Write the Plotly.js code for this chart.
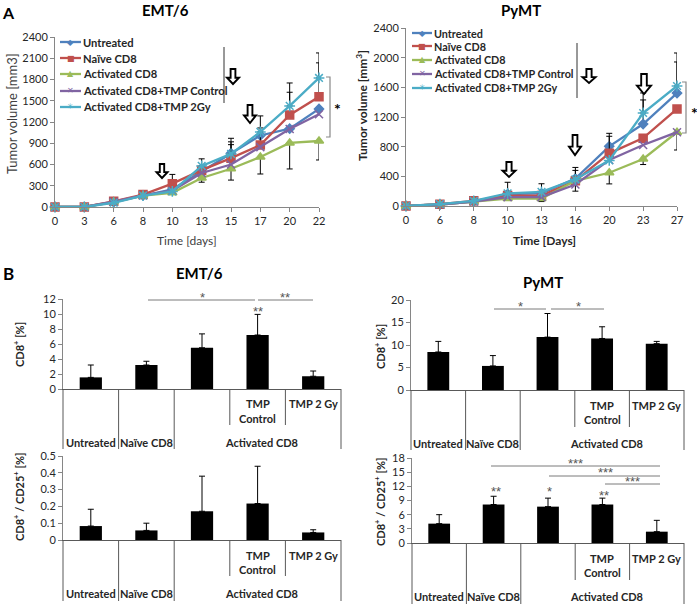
<!DOCTYPE html>
<html><head><meta charset="utf-8">
<script src="https://cdn.plot.ly/plotly-3.0.1.min.js"></script>
<style>body{margin:0;padding:0;background:#fff}#chart{width:697px;height:604px}</style>
</head><body><div id="chart"></div>
<script>
// ---------------- DATA ----------------
const seriesNames = ['Untreated','Naïve CD8','Activated CD8','Activated CD8+TMP Control','Activated CD8+TMP 2Gy'];

// Panel A – EMT/6 tumour volume [mm3]
const emtDays        = ['0','3','6','8','10','13','15','17','20','22'];
const emtUntreated   = [0,0,70,165,250,500,760,1010,1105,1385];
const emtNaive       = [0,0,80,175,330,520,690,875,1300,1555];
const emtActivated   = [0,0,70,160,200,410,540,706,905,932];
const emtTmpControl  = [0,0,75,165,230,480,600,845,1100,1310];
const emtTmp2Gy      = [0,0,60,160,220,580,750,1060,1427,1822];
const emtUntreatedErrUp = [null,null,null,null,null,null,120,null,null,null];
const emtNaiveErrUp     = [null,null,null,40,130,null,230,241,320,480];
const emtActivatedErrDn = [null,null,null,null,null,60,160,240,368,268];
const emtTmp2GyErrUp    = [null,null,null,null,null,100,220,226,324,353];

// Panel A – PyMT tumour volume [mm3]
const pymtDays       = ['0','6','8','10','13','16','20','23','27'];
const pymtUntreated  = [0,20,60,160,170,370,805,1105,1522];
const pymtNaive      = [0,25,70,140,140,340,710,915,1308];
const pymtActivated  = [0,20,60,100,100,340,448,634,995];
const pymtTmpControl = [0,20,60,120,120,290,620,822,995];
const pymtTmp2Gy     = [0,25,70,170,190,360,615,1254,1618];
const pymtUntreatedErrUp = [null,null,null,null,null,110,175,325,420];
const pymtNaiveErrUp     = [null,null,null,null,null,null,230,null,null];
const pymtActivatedErrDn = [null,null,null,null,40,140,150,75,240];
const pymtTmp2GyErrUp    = [null,null,null,150,110,160,null,270,445];

// Panel B – bar charts
const groups        = ['Untreated','Naïve CD8','Activated CD8','TMP Control','TMP 2 Gy'];
const emtCD8        = [1.55,3.2,5.5,7.2,1.7];
const emtCD8Err     = [1.65,0.5,1.85,2.75,0.7];
const emtCD25       = [0.083,0.057,0.171,0.217,0.045];
const emtCD25Err    = [0.1,0.043,0.209,0.222,0.016];
const pymtCD8       = [8.45,5.35,11.75,11.45,10.3];
const pymtCD8Err    = [2.35,2.3,5.25,2.6,0.5];
const pymtCD25      = [4.1,8.15,7.7,8.15,2.4];
const pymtCD25Err   = [1.9,1.75,1.8,1.35,2.4];
const outerLabels   = ['Untreated','Naïve CD8','Activated CD8'];
const innerLabels   = ['TMP','Control','TMP 2 Gy'];

// ---------------- STYLE / LAYOUT ----------------
const W = 697, H = 604;
const F = 'Lato, "Open Sans", "DejaVu Sans", sans-serif';
const DARK = '#262626', AXIS = '#868686', SIG = '#7a7a7a';
const colors  = ['#4F81BD','#C0504D','#9BBB59','#8064A2','#4BACC6'];
const symbols = ['diamond','square','triangle-up','x-thin-open','asterisk-open'];
const msizes  = [7,8,8,8,9];
const glyphs  = ['◆','■','▲','✕','✳'];

const G = {
  a1:{l:55,r:319,t:37,b:207},
  a2:{l:406,r:677,t:28,b:206},
  b1:{l:63,r:341,t:299,b:389},
  b2:{l:63,r:341,t:456,b:540},
  b3:{l:411,r:684,t:300,b:390},
  b4:{l:412,r:684,t:458,b:543}
};
const px = x => x / W, py = y => 1 - y / H;
const dom = g => ({x:[px(g.l), px(g.r)], y:[py(g.b), py(g.t)]});

function errObj(plus, minus){
  if(!plus && !minus) return {visible:false};
  const n = (plus || minus).length, p = [], m = [];
  for(let i = 0; i < n; i++){
    const a = plus ? plus[i] : null, b = minus ? minus[i] : null;
    if(a == null && b == null){ p.push(NaN); m.push(NaN); }
    else { p.push(a == null ? 0 : a); m.push(b == null ? 0 : b); }
  }
  return {type:'data', symmetric:false, array:p, arrayminus:m, color:'#000', thickness:1, width:3, visible:true};
}

const traces = [];
function addLines(xa, ya, days, series, errs){
  series.forEach((ys, i) => {
    traces.push({
      type:'scatter', mode:'lines+markers', x:days, y:ys, xaxis:xa, yaxis:ya,
      name:seriesNames[i], cliponaxis:false,
      line:{color:colors[i], width:2.3},
      marker:{symbol:symbols[i], size:msizes[i], color:colors[i], line:{color:colors[i], width:1.5}},
      error_y: errObj(errs[i][0], errs[i][1])
    });
  });
}
addLines('x','y', emtDays, [emtUntreated, emtNaive, emtActivated, emtTmpControl, emtTmp2Gy],
  [[emtUntreatedErrUp,null],[emtNaiveErrUp,null],[null,emtActivatedErrDn],[null,null],[emtTmp2GyErrUp,null]]);
addLines('x2','y2', pymtDays, [pymtUntreated, pymtNaive, pymtActivated, pymtTmpControl, pymtTmp2Gy],
  [[pymtUntreatedErrUp,null],[pymtNaiveErrUp,null],[null,pymtActivatedErrDn],[null,null],[pymtTmp2GyErrUp,null]]);

function addBars(xa, ya, vals, errs){
  traces.push({
    type:'bar', x:groups, y:vals, xaxis:xa, yaxis:ya, width:0.4,
    marker:{color:'#000', line:{width:0}},
    error_y:{type:'data', symmetric:false, array:errs, arrayminus:errs.map(()=>0), color:'#000', thickness:1, width:3}
  });
}
addBars('x3','y3', emtCD8, emtCD8Err);
addBars('x4','y4', emtCD25, emtCD25Err);
addBars('x5','y5', pymtCD8, pymtCD8Err);
addBars('x6','y6', pymtCD25, pymtCD25Err);

const tickfont = {family:F, size:11, color:DARK};
function lineX(g, anchor, cats){
  return {domain:dom(g).x, anchor, type:'category', categoryorder:'array', categoryarray:cats,
    range:[0, cats.length-1], tickmode:'linear', tick0:0, dtick:1,
    showline:true, linecolor:AXIS, linewidth:1, ticks:'outside', ticklen:4, tickcolor:AXIS,
    showgrid:false, zeroline:false, tickfont, fixedrange:true};
}
function valY(g, anchor, max, dtick, fmt){
  return {domain:dom(g).y, anchor, range:[0,max], tickmode:'linear', tick0:0, dtick,
    showline:true, linecolor:AXIS, linewidth:1, ticks:'outside', ticklen:4, tickcolor:AXIS,
    showgrid:false, zeroline:false, tickfont, tickformat:fmt || '', fixedrange:true};
}
function barX(g, anchor){
  return {domain:dom(g).x, anchor, type:'category', categoryorder:'array', categoryarray:groups,
    range:[-0.5, groups.length-0.5], showline:true, linecolor:'#595959', linewidth:1,
    ticks:'', showticklabels:false, showgrid:false, zeroline:false, fixedrange:true};
}

const shapes = [], annotations = [];
function ann(text, x, y, o){
  o = o || {};
  const font = Object.assign({family:F, size:11, color:DARK}, o.font || {});
  const a = Object.assign({text, x:px(x), y:py(y), xref:'paper', yref:'paper', showarrow:false,
    xanchor:'center', yanchor:'middle'}, o);
  a.font = font;
  return a;
}
function seg(x0,y0,x1,y1,color,width){
  return {type:'line', xref:'paper', yref:'paper', x0:px(x0), y0:py(y0), x1:px(x1), y1:py(y1),
    line:{color:color, width:width}};
}
function arrow(cx, top, bottom, w){
  const hw = w/2, sw = w*0.2, hh = (bottom-top)*0.42;
  const pts = [[cx-sw,top],[cx+sw,top],[cx+sw,bottom-hh],[cx+hw,bottom-hh],[cx,bottom],[cx-hw,bottom-hh],[cx-sw,bottom-hh]];
  return {type:'path', xref:'paper', yref:'paper', fillcolor:'#fff', line:{color:'#000', width:1.9},
    path:'M' + pts.map(p => px(p[0]) + ',' + py(p[1])).join('L') + 'Z'};
}

// panel letters and titles
annotations.push(ann('<b>A</b>', 8, 1, {yanchor:'top', font:{size:16, color:'#000'}}));
annotations.push(ann('<b>B</b>', 8, 273, {font:{size:17, color:'#000'}}));
annotations.push(ann('<b>EMT/6</b>', 165, 10, {font:{size:15, color:'#000'}}));
annotations.push(ann('<b>PyMT</b>', 521, 10, {font:{size:15, color:'#000'}}));
annotations.push(ann('<b>EMT/6</b>', 199, 273, {font:{size:15, color:'#000'}}));
annotations.push(ann('<b>PyMT</b>', 543, 282, {font:{size:15, color:'#000'}}));

// panel A axis titles
annotations.push(ann('Time [days]', 187, 240, {font:{size:12, color:'#404040'}}));
annotations.push(ann('Tumor volume [mm3]', 12, 114, {textangle:-90, font:{size:13, color:'#404040'}}));
annotations.push(ann('<b>Time [Days]</b>', 544, 240, {font:{size:12}}));
annotations.push(ann('<b>Tumor volume [mm<sup>3</sup>]</b>', 362, 106, {textangle:-90, font:{size:12}}));

// legends
function legend(rows, x0, x1, xt, fs){
  rows.forEach((y, i) => {
    shapes.push(seg(x0, y, x1, y, colors[i], 2.3));
    annotations.push(ann(glyphs[i], (x0+x1)/2, y, {font:{family:'DejaVu Sans', size:8, color:colors[i]}}));
    annotations.push(ann('<b>' + seriesNames[i] + '</b>', xt, y, {xanchor:'left', font:{size:fs}}));
  });
}
legend([42,58,74,91,107], 60, 81, 81, 11.2);
legend([33,46,60,74,88], 412, 432, 432, 10.8);

// arrows, legend separators, brackets
[[162,164,178,11],[250,105,123,12],[233,69,84,12],
 [509,162,177,13],[575,135,155,12],[644,74,94,14],[589,69,83,13]].forEach(a => shapes.push(arrow(a[0],a[1],a[2],a[3])));
shapes.push(seg(224,47,224,103,'#333',1));
shapes.push(seg(577,43,577,98,'#333',1));
shapes.push({type:'path', xref:'paper', yref:'paper', line:{color:'#888', width:1.2},
  path:'M'+px(326)+','+py(77)+'L'+px(330)+','+py(77)+'L'+px(330)+','+py(137)+'L'+px(326)+','+py(137)});
shapes.push({type:'path', xref:'paper', yref:'paper', line:{color:'#888', width:1.2},
  path:'M'+px(682)+','+py(82)+'L'+px(686)+','+py(82)+'L'+px(686)+','+py(133)+'L'+px(682)+','+py(133)});
annotations.push(ann('<b>*</b>', 337, 108, {font:{size:16, color:'#000'}}));
annotations.push(ann('<b>*</b>', 694, 112, {font:{size:16, color:'#000'}}));

// panel B y titles
annotations.push(ann('<b>CD8<sup>+</sup> [%]</b>', 18, 345, {textangle:-90, font:{size:11}}));
annotations.push(ann('<b>CD8<sup>+</sup> / CD25<sup>+</sup> [%]</b>', 18, 497, {textangle:-90, font:{size:11}}));
annotations.push(ann('<b>CD8<sup>+</sup> [%]</b>', 379, 346, {textangle:-90, font:{size:11}}));
annotations.push(ann('<b>CD8<sup>+</sup> / CD25<sup>+</sup> [%]</b>', 379, 502, {textangle:-90, font:{size:11}}));

// category label tables under bar charts
function catDecor(g, d){
  const cw = (g.r - g.l) / groups.length;
  const cx = i => g.l + (i + 0.5) * cw;
  [0,1,2,5].forEach(k => shapes.push(seg(g.l+k*cw, g.b, g.l+k*cw, d.yo, '#595959', 1)));
  [3,4].forEach(k => shapes.push(seg(g.l+k*cw, g.b, g.l+k*cw, d.yi, '#595959', 1)));
  annotations.push(ann('<b>'+innerLabels[0]+'</b>', cx(3), d.yTMP));
  annotations.push(ann('<b>'+innerLabels[1]+'</b>', cx(3), d.yCtrl));
  annotations.push(ann('<b>'+innerLabels[2]+'</b>', cx(4), d.yTMP));
  annotations.push(ann('<b>'+outerLabels[0]+'</b>', cx(0), d.yOut));
  annotations.push(ann('<b>'+outerLabels[1]+'</b>', cx(1), d.yOut));
  annotations.push(ann('<b>'+outerLabels[2]+'</b>', cx(3)+4, d.yOut));
}
catDecor(G.b1, {yTMP:403, yCtrl:418, yOut:442, yi:425, yo:449});
catDecor(G.b2, {yTMP:555, yCtrl:569, yOut:593, yi:576, yo:601});
catDecor(G.b3, {yTMP:405, yCtrl:419, yOut:443, yi:427, yo:450});
catDecor(G.b4, {yTMP:558, yCtrl:572, yOut:596, yi:580, yo:604});

// significance marks
function sig(x0, x1, y){ shapes.push(seg(x0, y, x1, y, SIG, 1)); }
function star(t, x, y){ annotations.push(ann(t, x, y + 2, {font:{family:'"Liberation Sans", Arial, sans-serif', size:13, color:'#555'}})); }
sig(148,255,300); star('*',202,295); sig(258,313,300); star('**',285,295); star('**',258,309);
sig(494,546,309); star('*',520,304); sig(551,604,309); star('*',578,304);
sig(491,660,466); star('***',575,461); sig(549,660,476); star('***',605,471); sig(605,660,484); star('***',632,479);
star('**',496,489); star('*',549,489); star('**',604,493);

const layout = {
  width:W, height:H, margin:{l:0,r:0,t:0,b:0}, showlegend:false,
  paper_bgcolor:'#fff', plot_bgcolor:'rgba(0,0,0,0)', font:{family:F, color:DARK},
  xaxis: lineX(G.a1,'y',emtDays),  yaxis: valY(G.a1,'x',2400,300),
  xaxis2: lineX(G.a2,'y2',pymtDays), yaxis2: valY(G.a2,'x2',2400,400),
  xaxis3: barX(G.b1,'y3'), yaxis3: valY(G.b1,'x3',12,2),
  xaxis4: barX(G.b2,'y4'), yaxis4: valY(G.b2,'x4',0.5,0.1),
  xaxis5: barX(G.b3,'y5'), yaxis5: valY(G.b3,'x5',20,5),
  xaxis6: barX(G.b4,'y6'), yaxis6: valY(G.b4,'x6',18,3),
  shapes, annotations
};
Plotly.newPlot('chart', traces, layout, {displayModeBar:false, staticPlot:true});
</script></body></html>
